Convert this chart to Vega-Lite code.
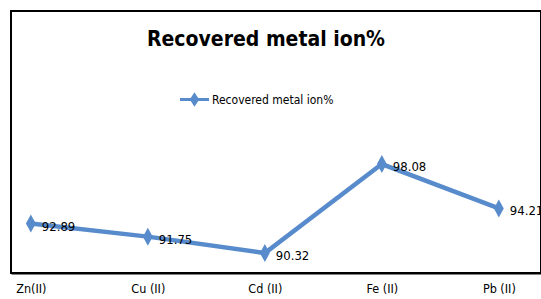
{
  "$schema": "https://vega.github.io/schema/vega-lite/v6.json",
  "width": 530,
  "height": 262,
  "autosize": {"type": "none"},
  "padding": {"left": 11, "top": 11, "right": 0, "bottom": 26},
  "background": "white",
  "title": {
    "text": "Recovered metal ion%",
    "font": "Liberation Sans Narrow, DejaVu Sans Condensed, sans-serif",
    "fontSize": 21,
    "fontWeight": "bold",
    "color": "#000000",
    "anchor": "middle",
    "frame": "group",
    "baseline": "alphabetic",
    "offset": 0,
    "dy": 56,
    "dx": -10
  },
  "config": {
    "view": {"stroke": "#000000", "strokeWidth": 2},
    "font": "Liberation Sans Narrow, DejaVu Sans Condensed, sans-serif"
  },
  "data": {
    "values": [
      {"metal": "Zn(II)", "value": 92.89, "series": "Recovered metal ion%"},
      {"metal": "Cu (II)", "value": 91.75, "series": "Recovered metal ion%"},
      {"metal": "Cd (II)", "value": 90.32, "series": "Recovered metal ion%"},
      {"metal": "Fe (II)", "value": 98.08, "series": "Recovered metal ion%"},
      {"metal": "Pb (II)", "value": 94.21, "series": "Recovered metal ion%"}
    ]
  },
  "encoding": {
    "x": {
      "field": "metal",
      "type": "ordinal",
      "sort": null,
      "scale": {"type": "point", "padding": 0.265, "align": 0.32},
      "axis": {
        "title": null,
        "labelAngle": 0,
        "labelFontSize": 12.5,
        "labelColor": "#000000",
        "labelPadding": 9,
        "labelBaseline": "top",
        "ticks": false,
        "domainColor": "#000000",
        "domainWidth": 2,
        "grid": false
      }
    },
    "y": {
      "field": "value",
      "type": "quantitative",
      "scale": {"domain": [88.58, 111.42], "nice": false, "zero": false},
      "axis": null
    }
  },
  "layer": [
    {
      "mark": {"type": "line", "strokeWidth": 4.5},
      "encoding": {
        "color": {
          "field": "series",
          "type": "nominal",
          "scale": {"range": ["#588bcb"]},
          "legend": {
            "title": null,
            "orient": "none",
            "legendX": 172,
            "legendY": 77,
            "symbolType": "M-1.45,0H1.45M0,-0.45L0.3,0L0,0.45L-0.3,0Z",
            "symbolSize": 400,
            "symbolStrokeWidth": 3,
            "symbolFillColor": "#588bcb",
            "symbolStrokeColor": "#588bcb",
            "labelFontSize": 12,
            "labelColor": "#000000",
            "labelOffset": 6
          }
        }
      }
    },
    {
      "mark": {"type": "point", "filled": true, "shape": "M0,-1L0.55,0L0,1L-0.55,0Z", "size": 324, "opacity": 1},
      "encoding": {
        "color": {"field": "series", "type": "nominal"}
      }
    },
    {
      "mark": {"type": "text", "align": "left", "baseline": "middle", "dx": 11, "dy": 3, "fontSize": 13, "color": "#000000"},
      "encoding": {
        "text": {"field": "value", "type": "quantitative", "format": ".2f"}
      }
    }
  ]
}
